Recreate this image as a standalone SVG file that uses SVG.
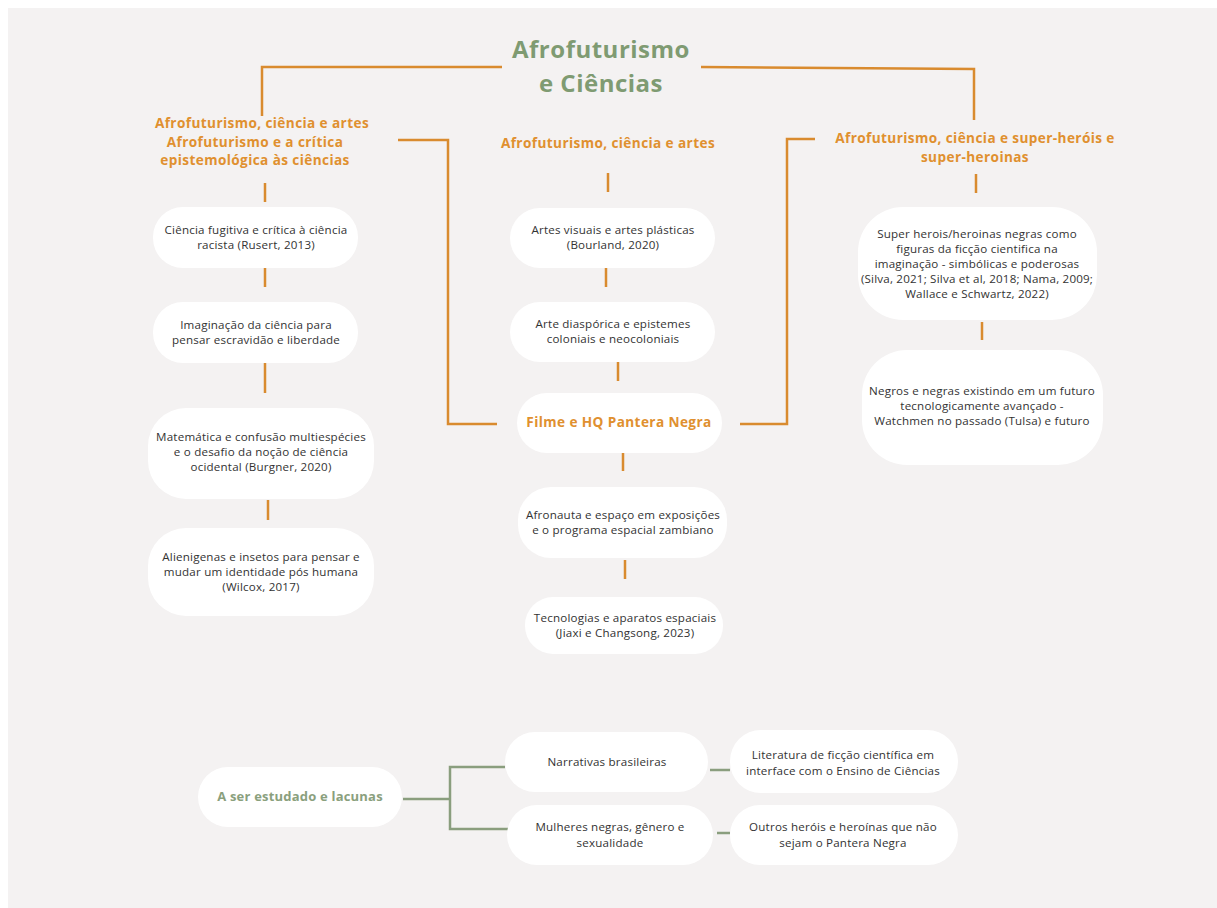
<svg xmlns="http://www.w3.org/2000/svg" width="1217" height="908" viewBox="0 0 1217 908">
<style>
.box{fill:#ffffff}
.t{font-family:"Open Sans","Liberation Sans",sans-serif;font-size:11.6px;letter-spacing:0.2px;fill:#333333;text-anchor:middle}
.h{font-family:"Open Sans","Liberation Sans",sans-serif;font-size:13.6px;letter-spacing:0.4px;font-weight:700;fill:#e0902f;text-anchor:middle}
.title{font-family:"Open Sans","Liberation Sans",sans-serif;font-size:24px;letter-spacing:0.5px;font-weight:700;fill:#7f9b72;text-anchor:middle}
.g{font-family:"Open Sans","Liberation Sans",sans-serif;font-size:13px;letter-spacing:0.2px;font-weight:700;fill:#8aa07d;text-anchor:middle}
.o{fill:none;stroke:#d98b2f;stroke-width:2.5}
.gl{fill:none;stroke:#8a9e7e;stroke-width:2.5}
</style>
<rect x="0" y="0" width="1217" height="908" fill="#ffffff"/>
<rect x="8" y="8" width="1209" height="900" fill="#f4f2f2"/>

<g id="connectors">
<polyline class="o" points="502,67 262,67 262,116"/>
<polyline class="o" points="701,67 974,69 974,120"/>
<polyline class="o" points="398,140 448,140 448,424 497,424"/>
<polyline class="o" points="815,139 787,139 787,424 740,424"/>
<line class="o" x1="608" y1="173" x2="608" y2="192"/>
<line class="o" x1="976" y1="174" x2="976" y2="193"/>
<line class="o" x1="265" y1="183" x2="265" y2="202"/>
<line class="o" x1="265" y1="268" x2="265" y2="287"/>
<line class="o" x1="265" y1="363" x2="265" y2="393"/>
<line class="o" x1="268" y1="500" x2="268" y2="520"/>
<line class="o" x1="606" y1="268" x2="606" y2="287"/>
<line class="o" x1="618" y1="362" x2="618" y2="381"/>
<line class="o" x1="623" y1="453" x2="623" y2="471"/>
<line class="o" x1="625" y1="560" x2="625" y2="579"/>
<line class="o" x1="982" y1="322" x2="982" y2="340"/>
<polyline class="gl" points="403,799 450,799"/>
<polyline class="gl" points="505,767 450,767 450,829 510,829"/>
<line class="gl" x1="710" y1="770" x2="730" y2="770"/>
<line class="gl" x1="717" y1="833" x2="730" y2="833"/>
</g>

<g id="title">
<text class="title" x="601" y="58">Afrofuturismo</text>
<text class="title" x="601" y="92">e Ciências</text>
</g>

<g id="h-left">
<text class="h" x="262" y="128">Afrofuturismo, ciência e artes</text>
<text class="h" x="255" y="147">Afrofuturismo e a crítica</text>
<text class="h" x="255" y="165">epistemológica às ciências</text>
</g>
<g id="h-mid">
<text class="h" x="608" y="148">Afrofuturismo, ciência e artes</text>
</g>
<g id="h-right">
<text class="h" x="975" y="143">Afrofuturismo, ciência e super-heróis e</text>
<text class="h" x="975" y="162">super-heroinas</text>
</g>

<g id="n-l1">
<rect class="box" x="153" y="207" width="205" height="61" rx="30"/>
<text class="t" x="256" y="234">Ciência fugitiva e crítica à ciência</text>
<text class="t" x="256" y="249">racista (Rusert, 2013)</text>
</g>
<g id="n-l2">
<rect class="box" x="153" y="302" width="205" height="61" rx="30"/>
<text class="t" x="256" y="329">Imaginação da ciência para</text>
<text class="t" x="256" y="344">pensar escravidão e liberdade</text>
</g>
<g id="n-l3">
<rect class="box" x="148" y="408" width="226" height="91" rx="38"/>
<text class="t" x="261" y="441">Matemática e confusão multiespécies</text>
<text class="t" x="261" y="456">e o desafio da noção de ciência</text>
<text class="t" x="261" y="471">ocidental (Burgner, 2020)</text>
</g>
<g id="n-l4">
<rect class="box" x="148" y="528" width="226" height="88" rx="38"/>
<text class="t" x="261" y="561">Alienigenas e insetos para pensar e</text>
<text class="t" x="261" y="576">mudar um identidade pós humana</text>
<text class="t" x="261" y="591">(Wilcox, 2017)</text>
</g>

<g id="n-m1">
<rect class="box" x="510" y="208" width="205" height="60" rx="30"/>
<text class="t" x="613" y="234">Artes visuais e artes plásticas</text>
<text class="t" x="613" y="249">(Bourland, 2020)</text>
</g>
<g id="n-m2">
<rect class="box" x="510" y="302" width="205" height="60" rx="30"/>
<text class="t" x="613" y="328">Arte diaspórica e epistemes</text>
<text class="t" x="613" y="343">coloniais e neocoloniais</text>
</g>
<g id="n-m3">
<rect class="box" x="517" y="393" width="205" height="60" rx="30"/>
<text class="h" x="619" y="427">Filme e HQ Pantera Negra</text>
</g>
<g id="n-m4">
<rect class="box" x="518" y="487" width="209" height="71" rx="33"/>
<text class="t" x="623" y="519">Afronauta e espaço em exposições</text>
<text class="t" x="623" y="534">e o programa espacial zambiano</text>
</g>
<g id="n-m5">
<rect class="box" x="525" y="597" width="198" height="57" rx="28"/>
<text class="t" x="625" y="622">Tecnologias e aparatos espaciais</text>
<text class="t" x="625" y="637">(Jiaxi e Changsong, 2023)</text>
</g>

<g id="n-r1">
<rect class="box" x="858" y="207" width="239" height="113" rx="45"/>
<text class="t" x="977" y="238">Super herois/heroinas negras como</text>
<text class="t" x="977" y="253">figuras da ficção cientifica na</text>
<text class="t" x="977" y="268">imaginação - simbólicas e poderosas</text>
<text class="t" x="977" y="283">(Silva, 2021; Silva et al, 2018; Nama, 2009;</text>
<text class="t" x="977" y="298">Wallace e Schwartz, 2022)</text>
</g>
<g id="n-r2">
<rect class="box" x="862" y="350" width="241" height="115" rx="45"/>
<text class="t" x="982" y="395">Negros e negras existindo em um futuro</text>
<text class="t" x="982" y="410">tecnologicamente avançado -</text>
<text class="t" x="982" y="425">Watchmen no passado (Tulsa) e futuro</text>
</g>

<g id="n-b0">
<rect class="box" x="198" y="767" width="204" height="60" rx="30"/>
<text class="g" x="300" y="801">A ser estudado e lacunas</text>
</g>
<g id="n-b1">
<rect class="box" x="505" y="732" width="203" height="60" rx="30"/>
<text class="t" x="607" y="766">Narrativas brasileiras</text>
</g>
<g id="n-b2">
<rect class="box" x="730" y="730" width="228" height="63" rx="31"/>
<text class="t" x="843" y="759">Literatura de ficção científica em</text>
<text class="t" x="843" y="775">interface com o Ensino de Ciências</text>
</g>
<g id="n-b3">
<rect class="box" x="507" y="805" width="206" height="60" rx="30"/>
<text class="t" x="610" y="831">Mulheres negras, gênero e</text>
<text class="t" x="610" y="847">sexualidade</text>
</g>
<g id="n-b4">
<rect class="box" x="730" y="805" width="228" height="60" rx="30"/>
<text class="t" x="843" y="831">Outros heróis e heroínas que não</text>
<text class="t" x="843" y="847">sejam o Pantera Negra</text>
</g>
</svg>
